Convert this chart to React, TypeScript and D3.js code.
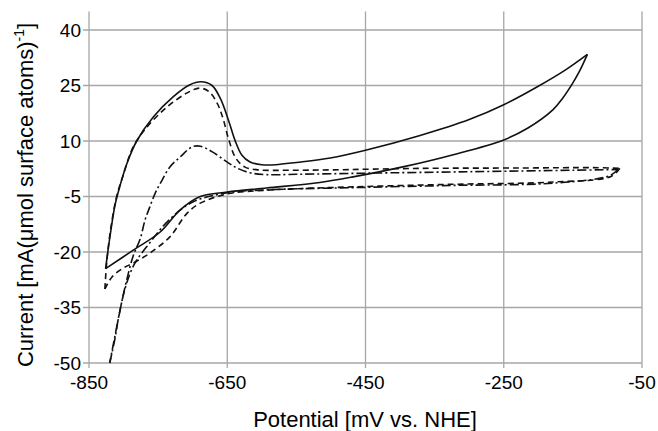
import React from "react";
import * as d3 from "d3";

type Pt = [number, number];

// potential (mV vs NHE), current (mA per umol surface atoms)
const solidForward: Pt[] = [
  [-826, -24.5], [-819, -15], [-812, -7], [-805, -2], [-795, 4], [-781, 10],
  [-757, 16.5], [-728, 22], [-704, 25.2], [-688, 26], [-672, 25], [-660, 21.5],
  [-648, 15.5], [-639, 10.3], [-629, 6.2], [-617, 4.3], [-600, 3.6], [-580, 3.6],
  [-550, 4.2], [-501, 5.4], [-450, 7.5], [-371, 11.5], [-300, 15.8], [-250, 19.8],
  [-202, 24.6], [-160, 29.3], [-129, 33.4],
];
const solidBack: Pt[] = [
  [-129, 33.4], [-140, 29], [-150, 25.7], [-165, 21.5], [-179, 18.4], [-215, 13.5],
  [-250, 10.3], [-323, 6.3], [-396, 3], [-468, 0.3], [-516, -1.2], [-593, -2.7],
  [-650, -3.8], [-689, -5], [-718, -8.6], [-747, -14.6], [-786, -19.5], [-826, -24.5],
];
const dashedForward: Pt[] = [
  [-827, -30], [-824, -22], [-818, -13], [-810, -5], [-801, 0.5], [-786, 8.4],
  [-766, 13.8], [-737, 19.2], [-708, 23], [-690, 24.3], [-676, 23.3], [-664, 20],
  [-656, 16], [-648, 10.5], [-638, 5.5], [-625, 3], [-605, 2.2], [-560, 2.1],
  [-500, 2.2], [-371, 2.6], [-226, 2.7], [-120, 2.8], [-82, 2.6],
];
const dashedBack: Pt[] = [
  [-82, 2.6], [-95, 0.4], [-179, -1.1], [-323, -1.7], [-468, -2.4], [-593, -3.3],
  [-650, -4.3], [-689, -6.8], [-708, -9.5], [-733, -15.9], [-762, -20.3],
  [-786, -23], [-801, -24.4], [-817, -26.8], [-827, -30],
];
const dashDotForward: Pt[] = [
  [-820, -50], [-812, -43], [-808, -38.4], [-802, -33], [-796, -28], [-786, -21],
  [-776, -16.5], [-769, -11.4], [-762, -7.8], [-754, -4], [-744, -0.5], [-733, 3],
  [-718, 5.7], [-701, 8.4], [-689, 8.6], [-671, 7], [-650, 4.3], [-636, 2.7],
  [-617, 1.4], [-593, 0.9], [-550, 1.0], [-450, 1.3], [-300, 1.7], [-150, 2.1],
  [-85, 2.3],
];
const dashDotBack: Pt[] = [
  [-85, 2.3], [-97, 0.6], [-179, -1.4], [-323, -2.0], [-468, -2.6], [-593, -3.2],
  [-650, -4.0], [-700, -6.5], [-735, -11.5], [-762, -17.5], [-785, -23.5],
  [-798, -30], [-808, -38.5], [-820, -50],
];

const xTicks = [-850, -650, -450, -250, -50];
const yTicks = [40, 25, 10, -5, -20, -35, -50];

const width = 658;
const height = 431;
const gridColor = "#a6a6a6";
const font = "Arial, 'Liberation Sans', sans-serif";

export default function App() {
  const x = d3.scaleLinear().domain([-850, -50]).range([89, 642]);
  const y = d3.scaleLinear().domain([-50, 45]).range([363, 11.5]);

  const line = d3
    .line<Pt>()
    .x((d) => x(d[0]))
    .y((d) => y(d[1]))
    .curve(d3.curveCatmullRom.alpha(0.5));

  const curves = [
    { data: solidForward, dash: "none" },
    { data: solidBack, dash: "none" },
    { data: dashedForward, dash: "6 4" },
    { data: dashedBack, dash: "6 4" },
    { data: dashDotForward, dash: "9 3 2 3" },
    { data: dashDotBack, dash: "9 3 2 3" },
  ];

  return (
    <svg
      width={width}
      height={height}
      style={{ position: "absolute", left: 0, top: 0, background: "#fff" }}
      fontFamily={font}
    >
      {/* grid */}
      {xTicks.map((t) => (
        <line key={"vx" + t} x1={x(t)} x2={x(t)} y1={y(45)} y2={y(-50) + 5}
          stroke={gridColor} strokeWidth={1.3} />
      ))}
      {yTicks.map((t) => (
        <line key={"hy" + t} x1={x(-850) - 6} x2={x(-50)} y1={y(t)} y2={y(t)}
          stroke={gridColor} strokeWidth={1.3} />
      ))}

      {/* tick labels */}
      {xTicks.map((t) => (
        <text key={"tx" + t} x={x(t)} y={389} textAnchor="middle" fontSize={19}>
          {t}
        </text>
      ))}
      {yTicks.map((t) => (
        <text key={"ty" + t} x={81} y={y(t)} dy="0.35em" textAnchor="end" fontSize={19}>
          {t}
        </text>
      ))}

      {/* titles */}
      <text x={365} y={427} textAnchor="middle" fontSize={22}>
        Potential [mV vs. NHE]
      </text>
      <text transform="translate(33,195) rotate(-90)" textAnchor="middle" fontSize={22}>
        Current [mA(μmol surface atoms)
        <tspan fontSize={14} dy={-9}>-1</tspan>
        <tspan dy={9}>]</tspan>
      </text>

      {/* curves */}
      {curves.map((c, i) => (
        <path key={i} d={line(c.data) ?? ""} fill="none" stroke="#111"
          strokeWidth={1.6} strokeDasharray={c.dash} strokeLinejoin="round" />
      ))}
    </svg>
  );
}
